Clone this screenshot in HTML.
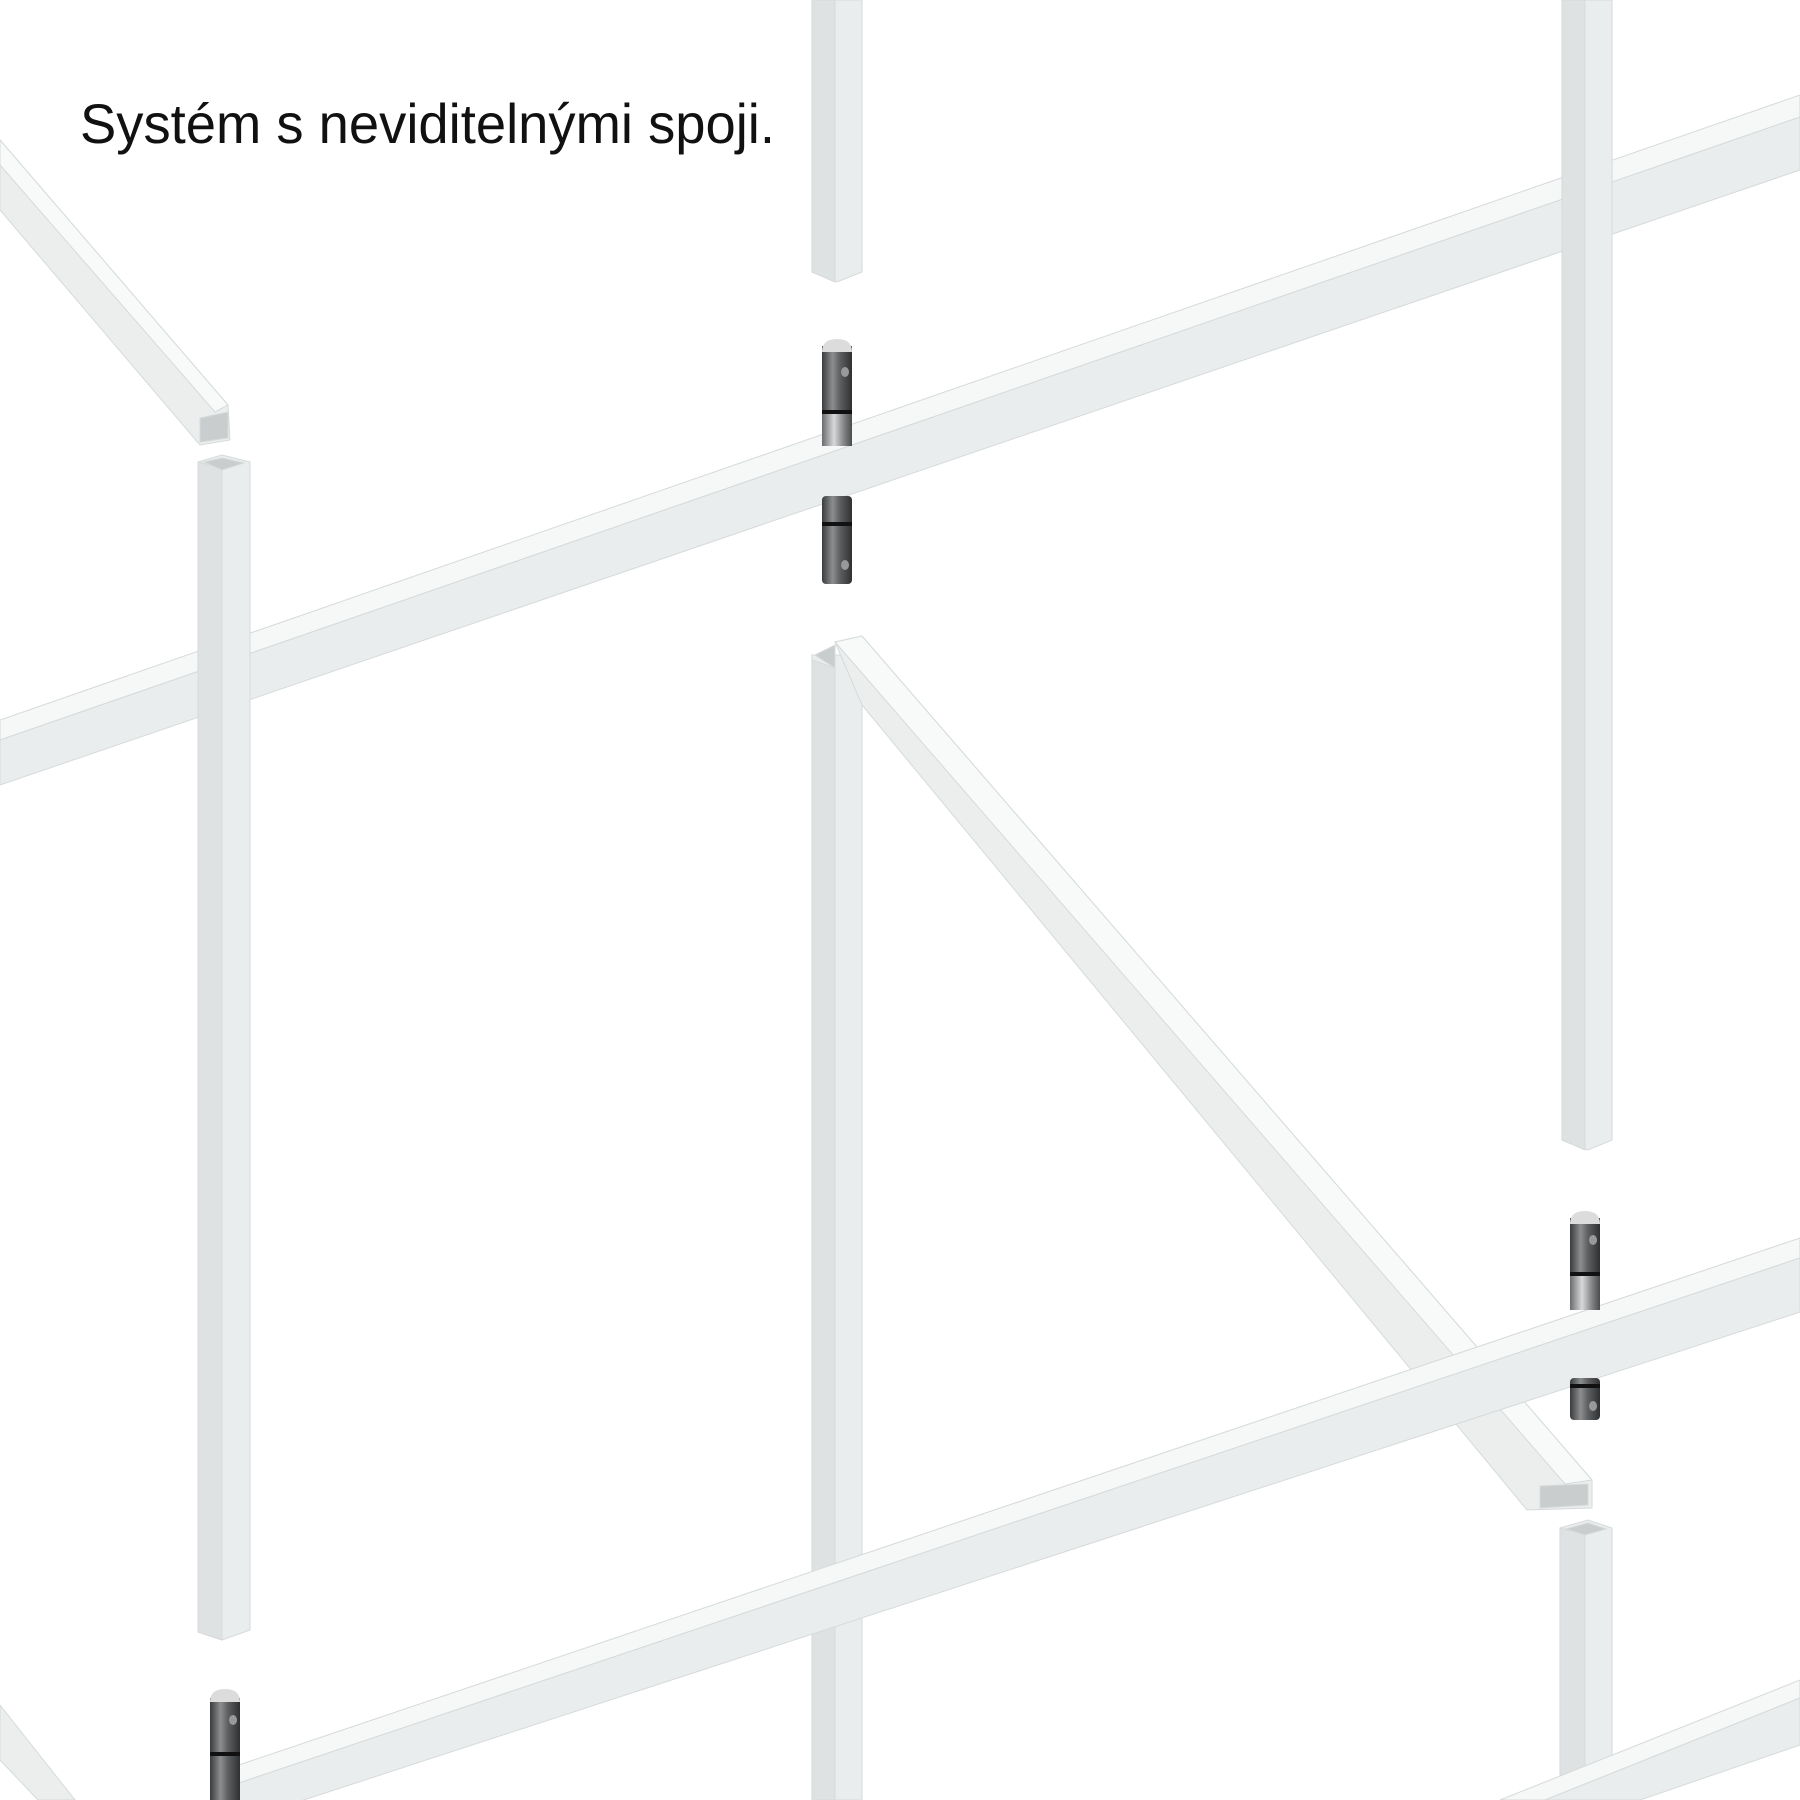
<!DOCTYPE html>
<html><head><meta charset="utf-8"><style>html,body{margin:0;padding:0;background:#fff}svg{display:block}</style></head>
<body>
<svg width="1800" height="1800" viewBox="0 0 1800 1800" xmlns="http://www.w3.org/2000/svg">
<defs>
<linearGradient id="pin" x1="0" x2="1" y1="0" y2="0">
<stop offset="0" stop-color="#3a3b3d"/><stop offset="0.35" stop-color="#8c8e90"/><stop offset="0.6" stop-color="#5d5f61"/><stop offset="1" stop-color="#2f3032"/>
</linearGradient>
<linearGradient id="pinl" x1="0" x2="1" y1="0" y2="0">
<stop offset="0" stop-color="#6a6b6d"/><stop offset="0.4" stop-color="#d8d9da"/><stop offset="0.7" stop-color="#8a8b8d"/><stop offset="1" stop-color="#4a4b4d"/>
</linearGradient>
</defs>
<g stroke="#d6dada" stroke-width="1">
<!-- top-left diagonal -->
<polygon points="0,140 228,405 230,440 200,445 0,210" fill="#eceeee"/>
<polygon points="0,140 228,405 215,412 0,165" fill="#f8f9f9"/>
<polygon points="200,418 228,412 228,438 200,442" fill="#c9cdcd"/>
<!-- beam 1 -->
<polygon points="0,720 1800,95 1800,117 0,740" fill="#f6f7f7"/>
<polygon points="0,740 1800,117 1800,170 0,785" fill="#eaeded"/>
<!-- vertical A -->
<polygon points="198,462 222,455 250,462 250,1630 222,1640 198,1632" fill="#eaeded"/>
<polygon points="198,462 222,468 222,1640 198,1632" fill="#dfe2e2"/>
<polygon points="204,462 222,458 244,463 222,470" fill="#c9cdcd"/>
<!-- vertical B top -->
<polygon points="812,0 862,0 862,272 837,282 812,272" fill="#eaeded"/>
<polygon points="812,0 835,0 835,282 812,272" fill="#dfe2e2"/>
<!-- vertical D top -->
<polygon points="1562,0 1612,0 1612,1140 1588,1150 1562,1140" fill="#eaeded"/>
<polygon points="1562,0 1585,0 1585,1150 1562,1140" fill="#dfe2e2"/>
<!-- vertical C -->
<polygon points="812,655 862,655 862,1800 812,1800" fill="#eaeded"/>
<polygon points="812,660 835,668 835,1800 812,1800" fill="#dfe2e2"/>
<!-- diagonal center -->
<polygon points="835,642 862,636 1592,1480 1592,1508 1527,1510 862,705" fill="#eceeee"/>
<polygon points="835,642 862,636 1592,1480 1565,1484" fill="#f8f9f9"/>
<polygon points="815,655 835,645 835,668" fill="#c9cdcd"/>
<polygon points="1540,1486 1588,1484 1588,1505 1540,1508" fill="#c9cdcd"/>
<!-- vertical E -->
<polygon points="1560,1528 1588,1520 1612,1528 1612,1800 1560,1800" fill="#eaeded"/>
<polygon points="1560,1528 1585,1535 1585,1800 1560,1800" fill="#dfe2e2"/>
<polygon points="1566,1529 1588,1523 1606,1529 1585,1535" fill="#c9cdcd"/>
<!-- beam 2 -->
<polygon points="230,1768 1800,1238 1800,1258 230,1786" fill="#f6f7f7"/>
<polygon points="230,1786 1800,1258 1800,1312 230,1824" fill="#eaeded"/>
<!-- beam 3 -->
<polygon points="1500,1800 1800,1680 1800,1698 1545,1800" fill="#f6f7f7"/>
<polygon points="1545,1800 1800,1698 1800,1745 1640,1800" fill="#eaeded"/>
<!-- bottom-left diagonal -->
<polygon points="0,1705 75,1800 38,1800 0,1760" fill="#eceeee"/>
</g>
<!-- pins -->
<g>
<rect x="822" y="346" width="30" height="100" fill="url(#pinl)"/>
<rect x="822" y="346" width="30" height="66" fill="url(#pin)"/>
<path d="M822,352 Q822,339 837,339 Q852,339 852,352 Z" fill="#dcdcdc"/>
<rect x="822" y="410" width="30" height="4" fill="#111"/>
<ellipse cx="845" cy="372" rx="4" ry="5" fill="#999"/>
<rect x="822" y="496" width="30" height="88" rx="4" fill="url(#pin)"/>
<rect x="822" y="522" width="30" height="4" fill="#111"/>
<ellipse cx="845" cy="565" rx="4" ry="5" fill="#999"/>

<rect x="1570" y="1218" width="30" height="92" fill="url(#pinl)"/>
<rect x="1570" y="1218" width="30" height="56" fill="url(#pin)"/>
<path d="M1570,1224 Q1570,1211 1585,1211 Q1600,1211 1600,1224 Z" fill="#dcdcdc"/>
<rect x="1570" y="1272" width="30" height="4" fill="#111"/>
<ellipse cx="1593" cy="1240" rx="4" ry="5" fill="#999"/>
<rect x="1570" y="1378" width="30" height="42" rx="4" fill="url(#pin)"/>
<rect x="1570" y="1384" width="30" height="4" fill="#111"/>
<ellipse cx="1593" cy="1406" rx="4" ry="5" fill="#999"/>

<rect x="210" y="1698" width="30" height="102" fill="url(#pin)"/>
<path d="M210,1702 Q210,1689 225,1689 Q240,1689 240,1702 Z" fill="#dcdcdc"/>
<rect x="210" y="1752" width="30" height="4" fill="#111"/>
<ellipse cx="233" cy="1720" rx="4" ry="5" fill="#999"/>
</g>
<text x="80" y="143" font-family="Liberation Sans, Arial, sans-serif" font-size="56" fill="#111" textLength="695" lengthAdjust="spacingAndGlyphs">Systém s neviditelnými spoji.</text>
</svg>
</body></html>
